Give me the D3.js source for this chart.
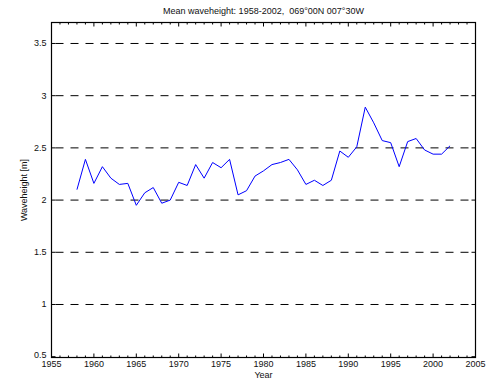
<!DOCTYPE html>
<html><head><meta charset="utf-8">
<script src="https://cdn.jsdelivr.net/npm/d3@7"></script>
<style>body{margin:0;background:#fff}svg{display:block}text{font-family:"Liberation Sans",Arial,sans-serif;fill:#111;white-space:pre}</style>
</head><body><svg id="c" width="487" height="383"></svg>
<script>
const years = [1958,1959,1960,1961,1962,1963,1964,1965,1966,1967,1968,1969,1970,1971,1972,1973,1974,1975,1976,1977,1978,1979,1980,1981,1982,1983,1984,1985,1986,1987,1988,1989,1990,1991,1992,1993,1994,1995,1996,1997,1998,1999,2000,2001,2002];
const waveheight = [2.10,2.39,2.16,2.32,2.21,2.15,2.16,1.95,2.07,2.12,1.97,2.00,2.17,2.14,2.34,2.21,2.36,2.31,2.39,2.05,2.09,2.23,2.28,2.34,2.36,2.39,2.29,2.15,2.19,2.14,2.19,2.47,2.41,2.51,2.89,2.74,2.57,2.55,2.32,2.56,2.59,2.48,2.44,2.44,2.52];
const xTicks = [1955,1960,1965,1970,1975,1980,1985,1990,1995,2000,2005];
const yTicks = [0.5,1,1.5,2,2.5,3,3.5];
const gridValues = [1,1.5,2,2.5,3,3.5];
const titleText = "Mean waveheight: 1958-2002,  069\u00b000N 007\u00b030W";
const xLabel = "Year";
const yLabel = "Waveheight [m]";

const svg = d3.select("#c");
const L=51.5, R=475.5, T=22.6, B=356.7;
const FT=22.5, FB=357.5;
const x = d3.scaleLinear().domain([1955,2005]).range([L,R]);
const y = d3.scaleLinear().domain([0.5,3.7]).range([B,T]);

// grid
svg.append("g").selectAll("line").data(gridValues).join("line")
  .attr("x1",L).attr("x2",R).attr("y1",d=>y(d)).attr("y2",d=>y(d))
  .attr("stroke","#000").attr("stroke-width",1).attr("stroke-dasharray","8,7").attr("stroke-dashoffset",11);

const minorX = d3.range(1955,2006);
const fs = 9;
function xAxis(g, pos, dir){
  g.selectAll("line").data(minorX).join("line")
    .attr("x1",d=>x(d)).attr("x2",d=>x(d)).attr("y1",pos).attr("y2",d=>pos+dir*(d%5===0?4:2))
    .attr("stroke","#000").attr("stroke-width",1);
}
xAxis(svg.append("g"), FB, -1);
xAxis(svg.append("g"), FT, 1);
const yg = svg.append("g");
yg.selectAll("line.l").data(yTicks).join("line").attr("class","l")
  .attr("x1",L).attr("x2",L+4).attr("y1",d=>y(d)).attr("y2",d=>y(d)).attr("stroke","#000");
yg.selectAll("line.r").data(yTicks).join("line").attr("class","r")
  .attr("x1",R).attr("x2",R-4).attr("y1",d=>y(d)).attr("y2",d=>y(d)).attr("stroke","#000");

// frame
svg.append("rect").attr("x",L).attr("y",FT).attr("width",R-L).attr("height",FB-FT)
  .attr("fill","none").attr("stroke","#000").attr("stroke-width",1.2);

// labels
svg.append("g").selectAll("text").data(xTicks).join("text")
  .attr("x",d=>x(d)).attr("y",367).attr("text-anchor","middle").attr("font-size",fs).text(d=>d);
svg.append("g").selectAll("text").data(yTicks).join("text")
  .attr("x",L-5).attr("y",d=>y(d)+(d===0.5?1.5:3)).attr("text-anchor","end").attr("font-size",fs).text(d=>d);

svg.append("text").attr("x",(L+R)/2).attr("y",378).attr("text-anchor","middle").attr("font-size",fs).text(xLabel);
svg.append("text").attr("transform",`translate(27,${(FT+FB)/2}) rotate(-90)`).attr("text-anchor","middle").attr("font-size",fs).text(yLabel);
svg.append("text").attr("x",(L+R)/2).attr("y",14).attr("text-anchor","middle").attr("font-size",fs).text(titleText);

// data line
svg.append("path").datum(years.map((yr,i)=>[yr,waveheight[i]]))
  .attr("d",d3.line().x(d=>x(d[0])).y(d=>y(d[1])))
  .attr("fill","none").attr("stroke","#0000ff").attr("stroke-width",1);
</script></body></html>
